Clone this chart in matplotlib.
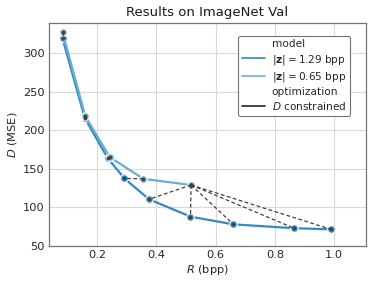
import matplotlib
matplotlib.use("Agg")
import matplotlib.pyplot as plt
from matplotlib.lines import Line2D
import seaborn as sns

# model with |z| = 1.29 bpp
dark_R = [0.083, 0.158, 0.235, 0.292, 0.375, 0.515, 0.660, 0.865, 0.990]
dark_D = [319, 216, 164, 137.5, 110.5, 88, 78, 73, 71.5]
# model with |z| = 0.65 bpp
light_R = [0.083, 0.160, 0.243, 0.356, 0.517]
light_D = [327, 218, 165, 137, 129]
# D-constrained links: (index into light, index into dark)
links_light = [0, 1, 2, 3, 4, 4, 4, 4, 4]
links_dark = [0, 1, 2, 3, 4, 5, 6, 7, 8]

x_ticks = [0.2, 0.4, 0.6, 0.8, 1.0]
y_ticks = [50, 100, 150, 200, 250, 300]

DARK = "#3787c0"
LIGHT = "#6aaed6"

sns.set_style("whitegrid")
plt.rcParams["font.family"] = ["DejaVu Sans"]
plt.rcParams["mathtext.fontset"] = "dejavusans"

fig = plt.figure(figsize=(3.74, 2.86), dpi=100)
ax = fig.add_axes([0.130, 0.140, 0.849, 0.781])

ax.plot(dark_R, dark_D, "-o", color=DARK, lw=1.6, ms=5.5, mec="white", mew=0.8, zorder=3)
ax.plot(light_R, light_D, "-o", color=LIGHT, lw=1.6, ms=5.5, mec="white", mew=0.8, zorder=3)
for i, j in zip(links_light, links_dark):
    ax.plot([light_R[i], dark_R[j]], [light_D[i], dark_D[j]], "--o", color="0.25",
            lw=0.9, ms=1.6, dashes=(3, 2), zorder=4)

ax.set_xlim(0.036, 1.108)
ax.set_ylim(50, 339.5)
ax.set_xticks(x_ticks)
ax.set_yticks(y_ticks)
ax.tick_params(labelsize=8.2, pad=3, colors="0.15", length=0)
for s in ax.spines.values():
    s.set_color("0.45")
    s.set_linewidth(0.9)
ax.grid(True, color="0.85", lw=0.8)
ax.set_xlabel("$R$ (bpp)", fontsize=8.2, labelpad=2, color="0.15")
ax.set_ylabel("$D$ (MSE)", fontsize=8.2, labelpad=3, color="0.15")
ax.set_title("Results on ImageNet Val", fontsize=9.5, pad=5, color="0.1")

blank = Line2D([], [], color="none")
handles = [blank,
           Line2D([], [], color=DARK, lw=1.2),
           Line2D([], [], color=LIGHT, lw=1.2),
           blank,
           Line2D([], [], color="0.15", lw=1.2)]
labels = ["model", r"$|\mathbf{z}| = 1.29$ bpp", r"$|\mathbf{z}| = 0.65$ bpp",
          "optimization", "$D$ constrained"]
leg = ax.legend(handles, labels, loc="upper right", bbox_to_anchor=(0.965, 0.965),
                fontsize=7.6, frameon=True, handlelength=2.2, handletextpad=0.6,
                labelspacing=0.3, borderpad=0.35, fancybox=True)
leg.get_frame().set_edgecolor("0.45")
leg.get_frame().set_linewidth(0.8)
leg.get_frame().set_alpha(1)

fig.savefig("out.png", dpi=100)
